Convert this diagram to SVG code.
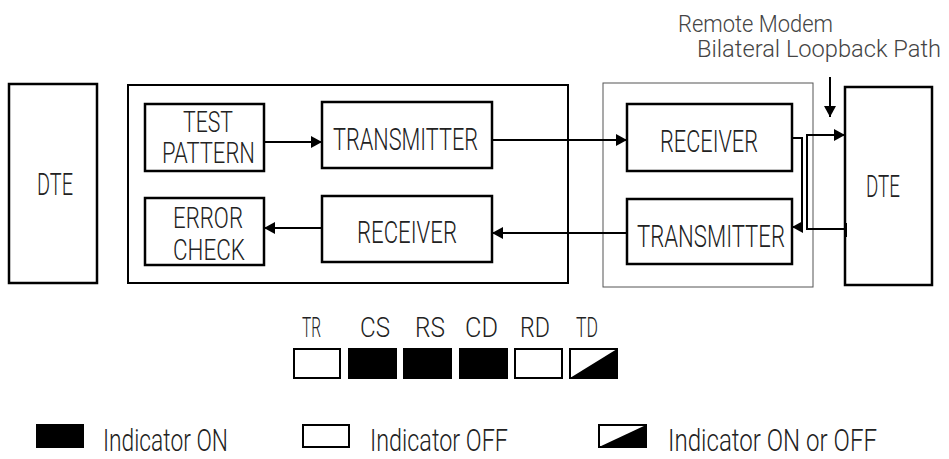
<svg xmlns="http://www.w3.org/2000/svg" width="949" height="459" viewBox="0 0 949 459">
<style>
.box{fill:#fff;stroke:#000;stroke-width:2.5}
.outer{fill:none;stroke:#000;stroke-width:2}
.modem{fill:none;stroke:#555;stroke-width:1}
.t{font-family:Roboto,"Liberation Sans",Arial,sans-serif;font-weight:300;font-size:32px;fill:#222}
.m{font-size:29px}
.s{font-size:27px}
.l{font-size:31px}
.top{font-size:23px;fill:#444}
.c{fill:none;stroke:#000;stroke-width:2}
.on{fill:#000;stroke:#000;stroke-width:2}
.off{fill:#fff;stroke:#000;stroke-width:2}
</style>
<defs>
<marker id="ah" markerUnits="userSpaceOnUse" markerWidth="12" markerHeight="12" refX="11" refY="6" orient="auto">
<path d="M0,0 L11,6 L0,12 z" fill="#000"/>
</marker>
</defs>

<g id="dte-left">
<rect class="box" x="9" y="84" width="88" height="199"/>
<text class="t" x="37" y="195" textLength="36" lengthAdjust="spacingAndGlyphs">DTE</text>
</g>

<g id="local-modem">
<rect class="outer" x="128" y="85" width="440" height="198"/>
</g>

<g id="test-pattern">
<rect class="box" x="145" y="104" width="119" height="67"/>
<text class="t m" x="183" y="132" textLength="50" lengthAdjust="spacingAndGlyphs">TEST</text>
<text class="t m" x="162" y="163" textLength="93" lengthAdjust="spacingAndGlyphs">PATTERN</text>
</g>

<g id="error-check">
<rect class="box" x="145" y="198" width="119" height="67"/>
<text class="t m" x="173" y="228" textLength="70" lengthAdjust="spacingAndGlyphs">ERROR</text>
<text class="t m" x="173" y="260" textLength="72" lengthAdjust="spacingAndGlyphs">CHECK</text>
</g>

<g id="transmitter-local">
<rect class="box" x="322" y="102" width="170" height="66"/>
<text class="t" x="333" y="150" textLength="145" lengthAdjust="spacingAndGlyphs">TRANSMITTER</text>
</g>

<g id="receiver-local">
<rect class="box" x="322" y="196" width="170" height="66"/>
<text class="t" x="357" y="243" textLength="100" lengthAdjust="spacingAndGlyphs">RECEIVER</text>
</g>

<g id="remote-modem">
<rect class="modem" x="603" y="83" width="210" height="204"/>
</g>

<g id="receiver-remote">
<rect class="box" x="627" y="104" width="165" height="67"/>
<text class="t" x="660" y="152" textLength="98" lengthAdjust="spacingAndGlyphs">RECEIVER</text>
</g>

<g id="transmitter-remote">
<rect class="box" x="627" y="199" width="165" height="65"/>
<text class="t" x="637" y="247" textLength="148" lengthAdjust="spacingAndGlyphs">TRANSMITTER</text>
</g>

<g id="dte-right">
<rect class="box" x="845" y="87" width="87" height="198"/>
<text class="t" x="866" y="197" textLength="34" lengthAdjust="spacingAndGlyphs">DTE</text>
</g>

<g id="label-loopback">
<text class="t top" x="678" y="32" textLength="155" lengthAdjust="spacingAndGlyphs">Remote Modem</text>
<text class="t top" x="697" y="57" textLength="244" lengthAdjust="spacingAndGlyphs">Bilateral Loopback Path</text>
</g>

<g id="connectors">
<line class="c" x1="264" y1="142" x2="322" y2="142" marker-end="url(#ah)"/>
<line class="c" x1="492" y1="140" x2="627" y2="140" marker-end="url(#ah)"/>
<line class="c" x1="627" y1="233" x2="492" y2="233" marker-end="url(#ah)"/>
<line class="c" x1="322" y1="228" x2="264" y2="228" marker-end="url(#ah)"/>
<polyline class="c" points="792,138 802,138 802,227 792,227" marker-end="url(#ah)"/>
<polyline class="c" points="846,229 807,229 807,135 845,135" marker-end="url(#ah)"/>
<line class="c" x1="846" y1="223" x2="846" y2="237"/>
<line class="c" x1="830" y1="77" x2="830" y2="117" marker-end="url(#ah)"/>
</g>

<g id="indicators">
<text class="t s" x="302" y="337" textLength="19" lengthAdjust="spacingAndGlyphs">TR</text>
<text class="t s" x="360" y="337" textLength="30" lengthAdjust="spacingAndGlyphs">CS</text>
<text class="t s" x="415" y="337" textLength="30" lengthAdjust="spacingAndGlyphs">RS</text>
<text class="t s" x="465" y="337" textLength="33" lengthAdjust="spacingAndGlyphs">CD</text>
<text class="t s" x="520" y="337" textLength="30" lengthAdjust="spacingAndGlyphs">RD</text>
<text class="t s" x="576" y="337" textLength="22" lengthAdjust="spacingAndGlyphs">TD</text>
<rect class="off" x="294" y="349" width="46" height="29"/>
<rect class="on" x="349" y="349" width="47" height="29"/>
<rect class="on" x="404" y="349" width="47" height="29"/>
<rect class="on" x="460" y="349" width="47" height="29"/>
<rect class="off" x="515" y="349" width="47" height="29"/>
<rect class="off" x="570" y="349" width="47" height="29"/>
<polygon points="617,349 617,378 570,378" fill="#000"/>
</g>

<g id="legend">
<rect class="on" x="37" y="425" width="46" height="22"/>
<text class="t l" x="103" y="451" textLength="125" lengthAdjust="spacingAndGlyphs">Indicator ON</text>
<rect class="off" x="303" y="425" width="46" height="22"/>
<text class="t l" x="370" y="451" textLength="138" lengthAdjust="spacingAndGlyphs">Indicator OFF</text>
<rect class="off" x="599" y="425" width="47" height="22"/>
<polygon points="646,425 646,447 599,447" fill="#000"/>
<text class="t l" x="668" y="451" textLength="209" lengthAdjust="spacingAndGlyphs">Indicator ON or OFF</text>
</g>
</svg>
